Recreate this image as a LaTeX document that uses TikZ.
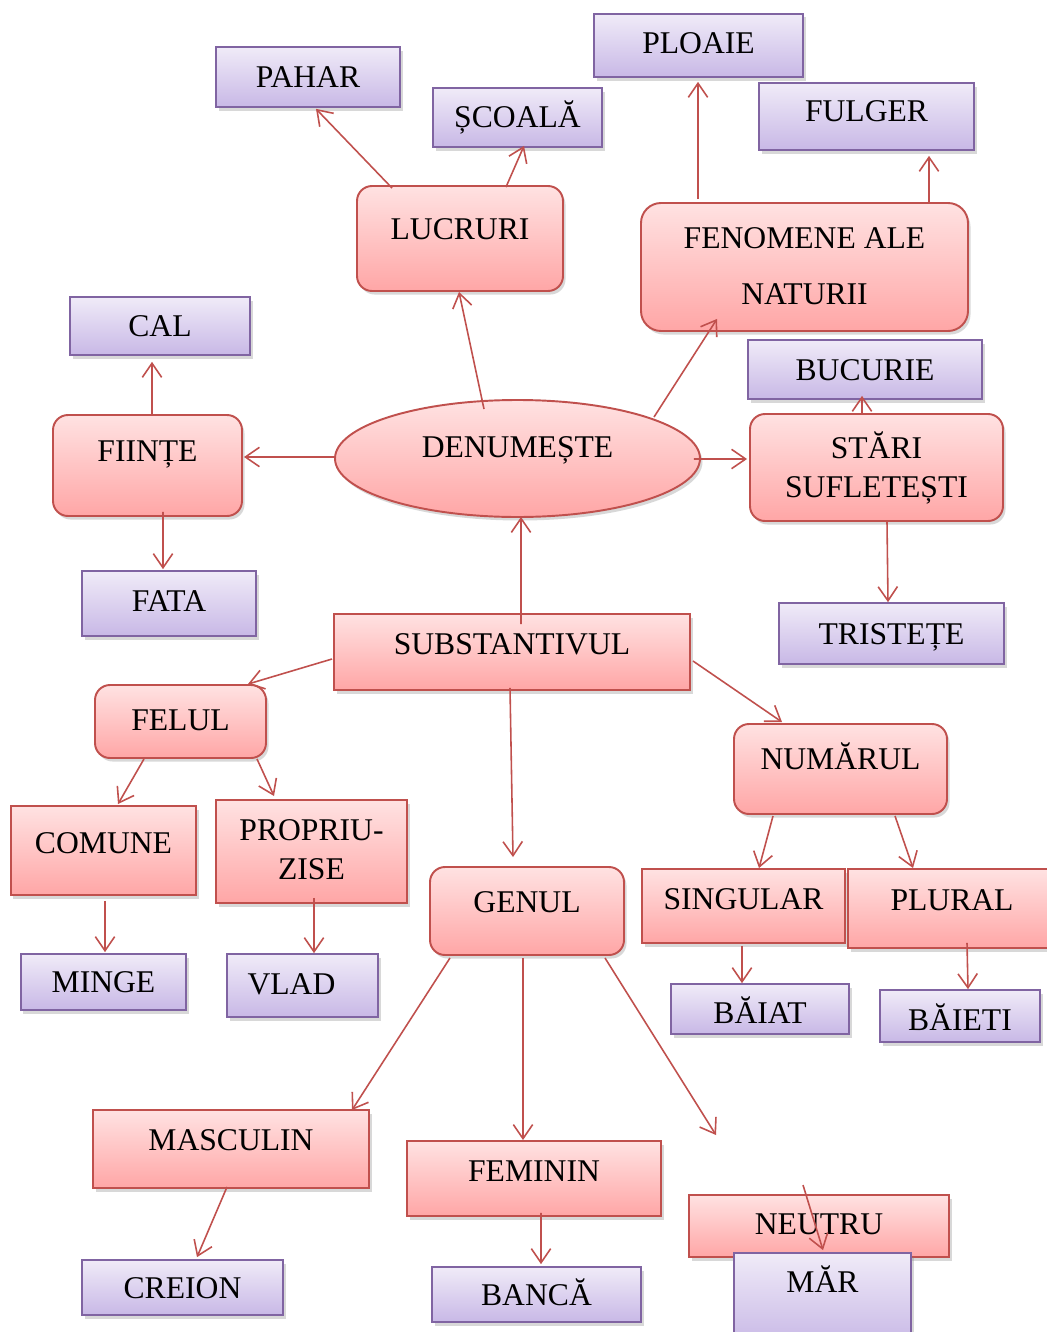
\documentclass[tikz,border=0pt]{standalone}
\usepackage{fontspec}
\setmainfont{Liberation Serif}
\usepackage{xcolor}
\usepackage{tikz}
\usetikzlibrary{shapes.geometric,arrows.meta,calc,shadows}
\definecolor{redline}{RGB}{192,80,77}
\definecolor{redtop}{RGB}{255,226,226}
\definecolor{redbot}{RGB}{255,166,166}
\definecolor{purpline}{RGB}{128,100,162}
\definecolor{purptop}{RGB}{240,235,248}
\definecolor{purpbot}{RGB}{200,184,230}
\tikzstyle{boxbase} = [rectangle, inner sep=0pt, align=center, text height=0.42cm,
    text depth=0cm, font=\fontsize{18}{22}\selectfont,
    drop shadow={shadow xshift=0.05cm, shadow yshift=-0.07cm, opacity=0.3}]
\tikzstyle{redbox} = [boxbase, draw=redline, line width=1.1pt, top color=redtop, bottom color=redbot]
\tikzstyle{roundbox} = [redbox, rounded corners=0.3cm]
\tikzstyle{purplebox} = [boxbase, draw=purpline, line width=1pt, top color=purptop, bottom color=purpbot]
\tikzstyle{arrow} = [redline, line width=0.9pt, -{Straight Barb[length=8pt,width=11pt]}]
\tikzset{boxsize/.style 2 args={minimum width=#1*0.02cm, minimum height=#2*0.02cm}}

\begin{document}
\begin{tikzpicture}[x=0.02cm, y=-0.02cm]
\fill[white] (0,0) rectangle (1047,1332);
\useasboundingbox (0,0) rectangle (1047,1332);
% Top row
\node[purplebox, boxsize={184}{60}] (pahar) at (308,77) {PAHAR};
\node[purplebox, boxsize={169}{59}] (scoala) at (517.5,117.5) {ȘCOALĂ};
\node[purplebox, boxsize={209}{63}, text depth=0.08cm] (ploaie) at (698.5,45.5) {PLOAIE};
\node[purplebox, boxsize={215}{67}, text depth=0.2cm] (fulger) at (866.5,116.5) {FULGER};
\node[roundbox, boxsize={206}{105}, text depth=0.4cm] (lucruri) at (460,238.5) {LUCRURI};
\node[roundbox, boxsize={327}{128}, text height=1.55cm, text depth=0.04cm, rounded corners=0.4cm] (fenomene) at (804.5,267) {FENOMENE ALE\\[10pt]NATURII};
% Middle
\node[purplebox, boxsize={180}{58}] (cal) at (160,326) {CAL};
\node[purplebox, boxsize={234}{59}] (bucurie) at (865,369.5) {BUCURIE};
\node[roundbox, boxsize={189}{101}, text depth=0.6cm] (fiinte) at (147.5,465.5) {FIINȚE};
\node[redbox, ellipse, boxsize={365}{117}, text depth=0.48cm] (denum) at (517.5,458.5) {DENUMEȘTE};
\node[roundbox, boxsize={253}{107}, text height=1.2cm, text depth=0cm] (stari) at (876.5,467.5) {STĂRI\\SUFLETEȘTI};
\node[purplebox, boxsize={174}{65}, text depth=0.12cm] (fata) at (169,603.5) {FATA};
\node[purplebox, boxsize={225}{61}] (tristete) at (891.5,633.5) {TRISTEȚE};
\node[redbox, boxsize={356}{76}, text depth=0.32cm] (subst) at (512,652) {SUBSTANTIVUL};
% Felul / Numarul
\node[roundbox, boxsize={171}{73}, text depth=0.08cm] (felul) at (180.5,721.5) {FELUL};
\node[roundbox, boxsize={213}{90}, text depth=0.4cm] (numarul) at (840.5,769) {NUMĂRUL};
\node[redbox, boxsize={185}{89}, text depth=0.32cm] (comune) at (103.5,850.5) {COMUNE};
\node[redbox, boxsize={191}{103}, text height=1.2cm, text depth=0.08cm] (propriu) at (311.5,851.5) {PROPRIU-\\ZISE};
\node[roundbox, boxsize={194}{88}, text depth=0.36cm] (genul) at (527,911) {GENUL};
\node[redbox, boxsize={203}{74}, text depth=0.28cm] (singular) at (743.5,906) {SINGULAR};
\node[redbox, boxsize={208}{79}, text depth=0.36cm] (plural) at (952,908.5) {PLURAL};
\node[purplebox, boxsize={165}{56}] (minge) at (103.5,982) {MINGE};
\node[purplebox, boxsize={151}{63}, text depth=0.08cm] (vlad) at (302.5,985.5) {VLAD\hspace{0.44cm}};
\node[purplebox, boxsize={178}{50}, text height=0.58cm] (baiat) at (760,1009) {BĂIAT};
\node[purplebox, boxsize={160}{52}, text height=0.58cm] (baieti) at (960,1016) {BĂIETI};
% Genul
\node[redbox, boxsize={276}{78}, text depth=0.36cm] (masculin) at (231,1149) {MASCULIN};
\node[redbox, boxsize={254}{75}, text depth=0.32cm] (feminin) at (534,1178.5) {FEMININ};
\node[redbox, boxsize={260}{62}, text depth=0.08cm] (neutru) at (819,1226) {NEUTRU};
\node[purplebox, boxsize={201}{55}] (creion) at (182.5,1287.5) {CREION};
\node[purplebox, boxsize={209}{55}] (banca) at (536.5,1294.5) {BANCĂ};
\node[purplebox, boxsize={177}{92}, text depth=0.68cm] (mar) at (822.5,1299) {MĂR};
\coordinate (strayend) at (716,1135);
\coordinate (straystart) at (803,1185);
% Arrows
\draw[arrow] ($(lucruri.north)+(-68,3)$) -- ($(pahar.south)+(8,1)$);
\draw[arrow] ($(lucruri.north)+(46,2)$) -- ($(scoala.south)+(6.5,-2)$);
\draw[arrow] ($(denum.north)+(-33.5,10)$) -- ($(lucruri.south)+(-1,0)$);
\draw[arrow] ($(denum.north)+(136.5,18)$) -- ($(fenomene.south)+(-87.5,-13)$);
\draw[arrow] ($(fenomene.north)+(-106.5,-3)$) -- ($(ploaie.south)+(-0.5,4)$);
\draw[arrow] ($(fenomene.north)+(124.5,0)$) -- ($(fulger.south)+(62.5,5)$);
\draw[arrow] ($(denum.west)+(0,-1.5)$) -- ($(fiinte.east)+(1,-8.5)$);
\draw[arrow] ($(fiinte.north)+(4.5,0)$) -- ($(cal.south)+(-8,6)$);
\draw[arrow] ($(fiinte.south)+(15.5,-5)$) -- ($(fata.north)+(-6,-1)$);
\draw[arrow] ($(denum.east)+(-7,0.5)$) -- ($(stari.west)+(-2,-8.5)$);
\draw[arrow] ($(stari.north)+(-14.5,0)$) -- ($(bucurie.south)+(-3,-4)$);
\draw[arrow] ($(stari.south)+(10.5,0)$) -- ($(tristete.north)+(-3.5,0)$);
\draw[arrow] ($(subst.north)+(9,11)$) -- ($(denum.south)+(3.5,-1)$);
\draw[arrow] ($(subst.west)+(-1,7)$) -- ($(felul.north)+(67.5,0)$);
\draw[arrow] ($(subst.east)+(2,9)$) -- ($(numarul.north)+(-58.5,-1)$);
\draw[arrow] ($(subst.south)+(-2,-3)$) -- ($(genul.north)+(-14,-9)$);
\draw[arrow] ($(felul.south)+(-36.5,0)$) -- ($(comune.north)+(14.5,-1)$);
\draw[arrow] ($(felul.south)+(76.5,0)$) -- ($(propriu.north)+(-37.5,-3)$);
\draw[arrow] ($(comune.south)+(1.5,5)$) -- ($(minge.north)+(1.5,-1)$);
\draw[arrow] ($(propriu.south)+(2.5,-6)$) -- ($(vlad.north)+(11.5,0)$);
\draw[arrow] ($(numarul.south)+(-67.5,1)$) -- ($(singular.north)+(15.5,0)$);
\draw[arrow] ($(numarul.south)+(54.5,1)$) -- ($(plural.north)+(-39,0)$);
\draw[arrow] ($(singular.south)+(-1.5,2)$) -- ($(baiat.north)+(-18,0)$);
\draw[arrow] ($(plural.south)+(15,-6)$) -- ($(baieti.north)+(8,0)$);
\draw[arrow] ($(genul.south)+(-77,2)$) -- ($(masculin.north)+(121,1)$);
\draw[arrow] ($(genul.south)+(-4,2)$) -- ($(feminin.north)+(-11,0)$);
\draw[arrow] ($(genul.south)+(78,2)$) -- (strayend);
\draw[arrow] (straystart) -- ($(mar.north)+(0.5,-2)$);
\draw[arrow] ($(masculin.south)+(-4,-2)$) -- ($(creion.north)+(14.5,-2)$);
\draw[arrow] ($(feminin.south)+(7,-4)$) -- ($(banca.north)+(4.5,-2)$);
\end{tikzpicture}
\end{document}
